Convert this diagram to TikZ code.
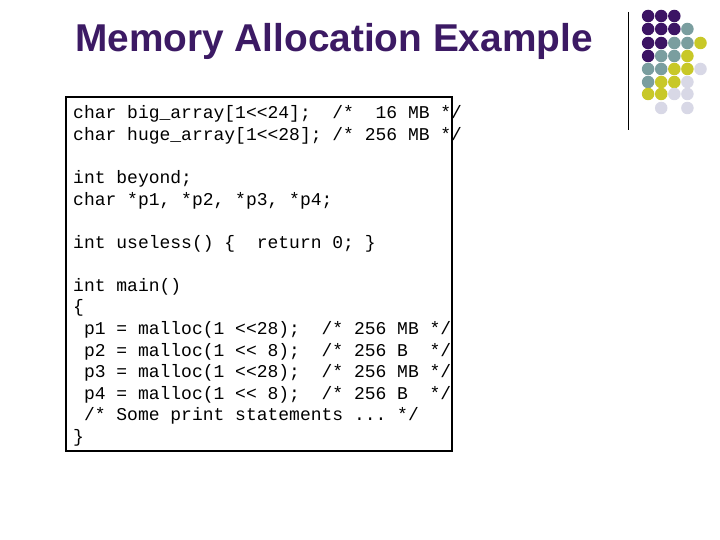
\documentclass[tikz,border=0pt]{standalone}
\usepackage{fontspec}
\setmainfont{Liberation Sans}
\newfontfamily\codefont{Liberation Mono}
\definecolor{ttl}{HTML}{3C1A64}
\definecolor{dP}{HTML}{3C1464}
\definecolor{dT}{HTML}{7A9E9F}
\definecolor{dY}{HTML}{C8C828}
\definecolor{dL}{HTML}{D8D8E6}
\begin{document}
\begin{tikzpicture}[x=1pt,y=-1pt,
  code/.style={anchor=base west,inner sep=0pt,font=\codefont\fontsize{18}{21.6}\selectfont},
  dot/.style={circle,inner sep=0pt,minimum size=12.5pt}]
\useasboundingbox[fill=white] (0,0) rectangle (720,540);
\node[anchor=base west,inner sep=0pt,text=ttl,font=\bfseries\fontsize{38.8}{42}\selectfont] (title) at (75,52) {Memory Allocation Example};
\draw[line width=1.2pt] (66,97) rectangle (452,451);
\def\L#1#2{\node[code] (l#1) at (73,{119+21.55*#1}) {#2};}
\L{0}{char big\_array[1<{}<24];~~/*~~16~MB~*/}
\L{1}{char huge\_array[1<{}<28];~/*~256~MB~*/}
\L{3}{int beyond;}
\L{4}{char *p1, *p2, *p3, *p4;}
\L{6}{int useless()~{\{}~~return 0; \}}
\L{8}{int main()}
\L{9}{\{}
\L{10}{~p1~=~malloc(1~<{}<28);~~/*~256~MB~*/}
\L{11}{~p2~=~malloc(1~<{}<~8);~~/*~256~B~~*/}
\L{12}{~p3~=~malloc(1~<{}<28);~~/*~256~MB~*/}
\L{13}{~p4~=~malloc(1~<{}<~8);~~/*~256~B~~*/}
\L{14}{~/*~Some~print~statements~...~*/}
\L{15}{\}}
\draw[line width=1pt] (628,12) coordinate (la) -- (628,130) coordinate (lb);
\foreach \row/\y/\cols in {
 1/16/{1/P,2/P,3/P},
 2/29/{1/P,2/P,3/P,4/T},
 3/43/{1/P,2/P,3/T,4/T,5/Y},
 4/56/{1/P,2/T,3/T,4/Y},
 5/69/{1/T,2/T,3/Y,4/Y,5/L},
 6/82/{1/T,2/Y,3/Y,4/L},
 7/94/{1/Y,2/Y,3/L,4/L},
 8/108/{2/L,4/L}}{
  \foreach \c/\k in \cols {
    \node[dot,fill=d\k] (d\row\c) at ({635+13.1*\c},\y) {};
  }
}
\end{tikzpicture}
\end{document}
